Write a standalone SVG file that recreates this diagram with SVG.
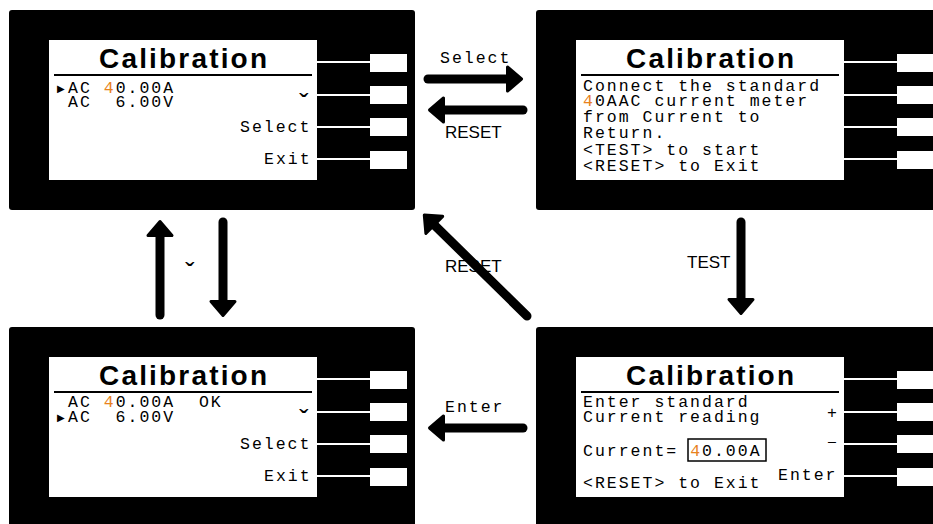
<svg xmlns="http://www.w3.org/2000/svg" xmlns:xlink="http://www.w3.org/1999/xlink" width="933" height="524" viewBox="0 0 933 524">
<style>
.m{font-family:"Liberation Mono","DejaVu Sans Mono",monospace;font-size:16.5px;letter-spacing:2px;fill:#000;white-space:pre}
.t{font-family:"Liberation Sans",Arial,sans-serif;font-weight:bold;font-size:28px;text-anchor:middle;fill:#000}
.lbl{font-family:"Liberation Sans",Arial,sans-serif;font-size:17px;fill:#000}
.tri{font-family:"DejaVu Sans",sans-serif;font-size:10px;fill:#000}
.car{font-family:"Liberation Sans",Arial,sans-serif;font-size:28px;text-anchor:middle;fill:#000}
.hl{fill:#e8821e}
.arr{fill:none;stroke:#000;stroke-width:9;stroke-linecap:round;marker-end:url(#head)}
.wire{stroke:#fff;stroke-width:2}
</style>
<defs>
<marker id="head" viewBox="0 0 20 30" markerWidth="20" markerHeight="30" refX="8" refY="15" markerUnits="userSpaceOnUse" orient="auto" overflow="visible">
<path d="M2,3 L16,15 L2,27 Z" fill="#000" stroke="#000" stroke-width="3" stroke-linejoin="round"/>
</marker>
<g id="frame">
<rect x="9" y="10" width="406" height="200" rx="3" fill="#000"/>
<rect x="49" y="40" width="268" height="140" fill="#fff"/>
<rect x="370" y="54" width="37" height="18" fill="#fff"/>
<rect x="370" y="86" width="37" height="18" fill="#fff"/>
<rect x="370" y="118" width="37" height="18" fill="#fff"/>
<rect x="370" y="151" width="37" height="18" fill="#fff"/>
<line class="wire" x1="317" y1="62" x2="370" y2="62"/>
<line class="wire" x1="317" y1="95" x2="370" y2="95"/>
<line class="wire" x1="317" y1="127" x2="370" y2="127"/>
<line class="wire" x1="317" y1="159" x2="370" y2="159"/>
<line x1="54" y1="75" x2="312" y2="75" stroke="#000" stroke-width="2"/>
</g>
</defs>
<rect width="933" height="524" fill="#fff"/>

<g id="menu-ac-current">
<use xlink:href="#frame"/>
<text class="t" x="183" y="68" textLength="168" lengthAdjust="spacing">Calibration</text>
<text class="tri" x="57" y="92">▶</text>
<text class="m" x="68" y="93" xml:space="preserve">AC <tspan class="hl">4</tspan>0.00A</text>
<text class="m" x="68" y="107" xml:space="preserve">AC  6.00V</text>
<text class="car" x="304" y="113">ˇ</text>
<text class="m" x="240" y="132">Select</text>
<text class="m" x="264" y="164">Exit</text>
</g>

<g id="connect-meter" transform="translate(527,0)">
<use xlink:href="#frame"/>
<text class="t" x="183" y="68" textLength="168" lengthAdjust="spacing">Calibration</text>
<text class="m" x="56" y="91">Connect the standard</text>
<text class="m" x="56" y="106"><tspan class="hl">4</tspan>0AAC current meter</text>
<text class="m" x="56" y="122">from Current to</text>
<text class="m" x="56" y="138">Return.</text>
<text class="m" x="56" y="155">&lt;TEST&gt; to start</text>
<text class="m" x="56" y="171">&lt;RESET&gt; to Exit</text>
</g>

<g id="menu-ac-voltage" transform="translate(0,317)">
<use xlink:href="#frame"/>
<text class="t" x="183" y="68" textLength="168" lengthAdjust="spacing">Calibration</text>
<text class="m" x="68" y="90" xml:space="preserve">AC <tspan class="hl">4</tspan>0.00A  OK</text>
<text class="tri" x="57" y="104">▶</text>
<text class="m" x="68" y="105" xml:space="preserve">AC  6.00V</text>
<text class="car" x="304" y="112">ˇ</text>
<text class="m" x="240" y="132">Select</text>
<text class="m" x="264" y="164">Exit</text>
</g>

<g id="enter-reading" transform="translate(527,317)">
<use xlink:href="#frame"/>
<text class="t" x="183" y="68" textLength="168" lengthAdjust="spacing">Calibration</text>
<text class="m" x="56" y="90">Enter standard</text>
<text class="m" x="56" y="105">Current reading</text>
<text class="m" x="306" y="101" text-anchor="middle">+</text>
<text class="m" x="306" y="131" text-anchor="middle">−</text>
<rect x="161" y="122" width="78" height="22" fill="none" stroke="#000" stroke-width="1.5"/>
<text class="m" x="56" y="139" xml:space="preserve">Current= <tspan class="hl">4</tspan>0.00A</text>
<text class="m" x="56" y="171">&lt;RESET&gt; to Exit</text>
<text class="m" x="251" y="163">Enter</text>
</g>

<g id="connectors">
<line class="arr" x1="428" y1="79" x2="513.5" y2="79"/>
<line class="arr" x1="523" y1="110" x2="437.5" y2="110"/>
<line class="arr" x1="160" y1="315" x2="160" y2="229.5"/>
<line class="arr" x1="223" y1="222" x2="223" y2="307.5"/>
<line class="arr" x1="527" y1="316" x2="430" y2="220.7"/>
<line class="arr" x1="741" y1="222" x2="741" y2="305.5"/>
<line class="arr" x1="523" y1="428" x2="437.5" y2="428"/>
<text class="m" x="440" y="63">Select</text>
<text class="lbl" x="445" y="138">RESET</text>
<text class="car" x="190" y="282">ˇ</text>
<text class="lbl" x="445" y="272">RESET</text>
<text class="lbl" x="687" y="268">TEST</text>
<text class="m" x="445" y="412">Enter</text>
</g>
</svg>
